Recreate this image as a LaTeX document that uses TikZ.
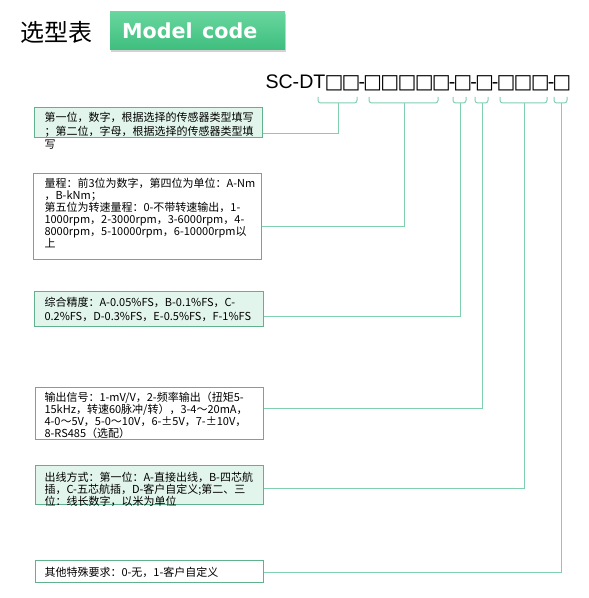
\documentclass[tikz,border=0pt]{standalone}
\usepackage{fontspec}
\setmainfont{Noto Sans CJK SC}
\newfontfamily\codefont{Liberation Sans}
\newfontfamily\sqfont{DejaVu Sans}
\newfontfamily\btnfont{DejaVu Sans}
\usetikzlibrary{shadows}

\definecolor{linegreen}{RGB}{128,208,176}
\definecolor{boxgreen}{RGB}{96,178,140}
\definecolor{boxfill}{RGB}{226,245,236}
\definecolor{btntop}{RGB}{104,214,158}
\definecolor{btnbot}{RGB}{62,190,126}

\newcommand{\codesq}{{\sqfont\fontsize{15}{16}\selectfont\kern-0.65pt □\kern-0.65pt}}
\newcommand{\codedash}{\kern-0.8pt-\kern-0.8pt}

\tikzset{every picture/.style={line width=0.75pt}}
\tikzset{
  infobox/.style={draw=boxgreen, inner sep=0pt, anchor=north west},
  greenbox/.style={infobox, fill=boxfill},
  boxtext/.style={anchor=north west, inner sep=0pt, align=left, font=\fontsize{8.25}{9}\selectfont},
  widetext/.style={boxtext, font=\fontsize{8.25}{10.1}\selectfont},
  conn/.style={draw=linegreen},
  brace/.style={draw=linegreen, rounded corners=2}
}

\begin{document}
\begin{tikzpicture}[x=0.75pt,y=0.75pt,yscale=-1,xscale=1]
\useasboundingbox (0,0) rectangle (588,598);

% Title
\node [anchor=west, inner sep=0pt, font=\fontsize{18}{20}\selectfont] (title) at (20,32) {选型表};
% Button
\node [minimum width=131.25pt, minimum height=28.5pt, inner xsep=9pt, text width=113.25pt, align=left,
  top color=btntop, bottom color=btnbot, text=white,
  drop shadow={opacity=0.35, shadow xshift=1pt, shadow yshift=-1.5pt},
  font=\btnfont\bfseries\fontsize{15.5}{18}\selectfont] (model) at (197.5,31) {Model\hspace{2pt} code};

% Code string
\node [anchor=base west, inner sep=0pt, font=\codefont\fontsize{14.7}{16}\selectfont] (code) at (265,89)
  {SC-DT\codesq\codesq\codedash\codesq\codesq\codesq\codesq\codesq\codedash\codesq\codedash\codesq\codedash\codesq\codesq\codesq\codedash\codesq};

%Braces under the code
\draw [brace] (318,97) -- (318,103) -- (357,103) -- (357,97);
\draw [brace] (369,97) -- (369,103) -- (438,103) -- (438,97);
\draw [brace] (453,97) -- (453,103) -- (466,103) -- (466,97);
\draw [brace] (475,97) -- (475,103) -- (488,103) -- (488,97);
\draw [brace] (500,97) -- (500,103) -- (547,103) -- (547,97);
\draw [brace] (554,97) -- (554,103) -- (567,103) -- (567,97);
\coordinate (k1) at (338,103);
\coordinate (k2) at (404,103);
\coordinate (k3) at (460,103);
\coordinate (k4) at (482,103);
\coordinate (k5) at (524,103);
\coordinate (k6) at (561,103);

%Shape: Rectangle
\node [greenbox, minimum width=171pt, minimum height=22.5pt] (b1) at (34,107) {};
\node [infobox, minimum width=171pt, minimum height=64.5pt] (b2) at (33,173) {};
\node [greenbox, minimum width=171.75pt, minimum height=26.25pt] (b3) at (34,291) {};
\node [infobox, minimum width=171pt, minimum height=39pt] (b4) at (35,387) {};
\node [greenbox, minimum width=171pt, minimum height=29.25pt] (b5) at (35,465) {};
\node [infobox, minimum width=171pt, minimum height=16.5pt] (b6) at (35,560) {};

% Text Node
\node [widetext] (t1) at ([shift={(10,5)}]b1.north west) {第一位，数字，根据选择的传感器类型填写\\；第二位，字母，根据选择的传感器类型填\\写};
\node [boxtext] (t2) at ([shift={(11,5)}]b2.north west) {量程：前3位为数字，第四位为单位：A-Nm\\，B-kNm；\\第五位为转速量程：0-不带转速输出，1-\\1000rpm，2-3000rpm，3-6000rpm，4-\\8000rpm，5-10000rpm，6-10000rpm以\\上};
\node [widetext] (t3) at ([shift={(10,6)}]b3.north west) {综合精度：A-0.05\%FS，B-0.1\%FS，C-\\0.2\%FS，D-0.3\%FS，E-0.5\%FS，F-1\%FS};
\node [boxtext] (t4) at ([shift={(9,5)}]b4.north west) {输出信号：1-mV/V，2-频率输出（扭矩5-\\15kHz，转速60脉冲/转），3-4～20mA，\\4-0～5V，5-0～10V，6-±5V，7-±10V，\\8-RS485（选配）};
\node [boxtext] (t5) at ([shift={(9,7)}]b5.north west) {出线方式：第一位：A-直接出线，B-四芯航\\插，C-五芯航插，D-客户自定义;第二、三\\位：线长数字，以米为单位};
\node [boxtext] (t6) at ([shift={(9,7)}]b6.north west) {其他特殊要求：0-无，1-客户自定义};

%Straight Lines
\draw [conn] (b1.east |- 0,134) -| (k1);
\draw [conn] (b2.east |- 0,227) -| (k2);
\draw [conn] (b3.east |- 0,316) -| (k3);
\draw [conn] (b4.east |- 0,408) -| (k4);
\draw [conn] (b5.east |- 0,488) -| (k5);
\draw [conn] (b6.east |- 0,572) -| (k6);

\end{tikzpicture}
\end{document}
